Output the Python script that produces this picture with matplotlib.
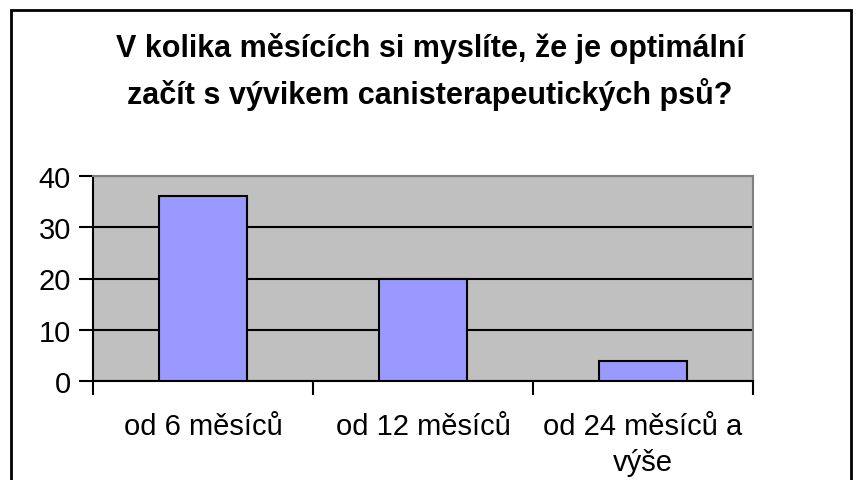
import matplotlib.pyplot as plt
from matplotlib.patches import Rectangle

# data
categories = ["od 6 měsíců", "od 12 měsíců", "od 24 měsíců a\nvýše"]
values = [36, 20, 4]
y_ticks = [0, 10, 20, 30, 40]

title = "V kolika měsících si myslíte, že je optimální\nzačít s vývikem canisterapeutických psů?"

plt.rcParams['font.family'] = ['Liberation Sans', 'DejaVu Sans']

W, H = 860, 481
fig = plt.figure(figsize=(W / 100, H / 100), dpi=100)

# outer chart border (bottom edge falls off the image)
fig.patches.append(Rectangle((11 / W, -0.1), (851 - 11) / W, 1.1 - 11 / H,
                             transform=fig.transFigure, fill=False,
                             edgecolor='black', linewidth=2))

ax = fig.add_axes([93 / W, 1 - 382 / H, (753 - 93) / W, (382 - 177) / H])
ax.set_facecolor('#C0C0C0')

x = range(len(categories))
ax.bar(x, values, width=0.4, color='#9999FF', edgecolor='black', linewidth=1.5, zorder=3)

ax.set_xlim(-0.5, 2.5)
ax.set_ylim(0, 40)
ax.set_yticks(y_ticks)
ax.yaxis.grid(True, color='black', linewidth=1.5, zorder=1)
ax.set_axisbelow(True)

ax.set_xticks([-0.5, 0.5, 1.5, 2.5])
ax.set_xticklabels([])
ax.set_xticks(list(x), minor=True)
ax.set_xticklabels(categories, minor=True, fontsize=21, linespacing=1.4)
ax.tick_params(axis='x', which='major', length=10, width=1.5, direction='out')
ax.tick_params(axis='x', which='minor', length=0, pad=22)
ax.tick_params(axis='y', length=10, width=1.5, labelsize=21, pad=6)

for s in ['left', 'bottom']:
    ax.spines[s].set_color('black')
    ax.spines[s].set_linewidth(1.5)
for s in ['top', 'right']:
    ax.spines[s].set_color('#808080')
    ax.spines[s].set_linewidth(1.5)

fig.text(430 / W, 1 - 72 / H, title, ha='center', va='center',
         fontsize=22, fontweight='bold', linespacing=1.55)

fig.savefig('out.png', dpi=100)
